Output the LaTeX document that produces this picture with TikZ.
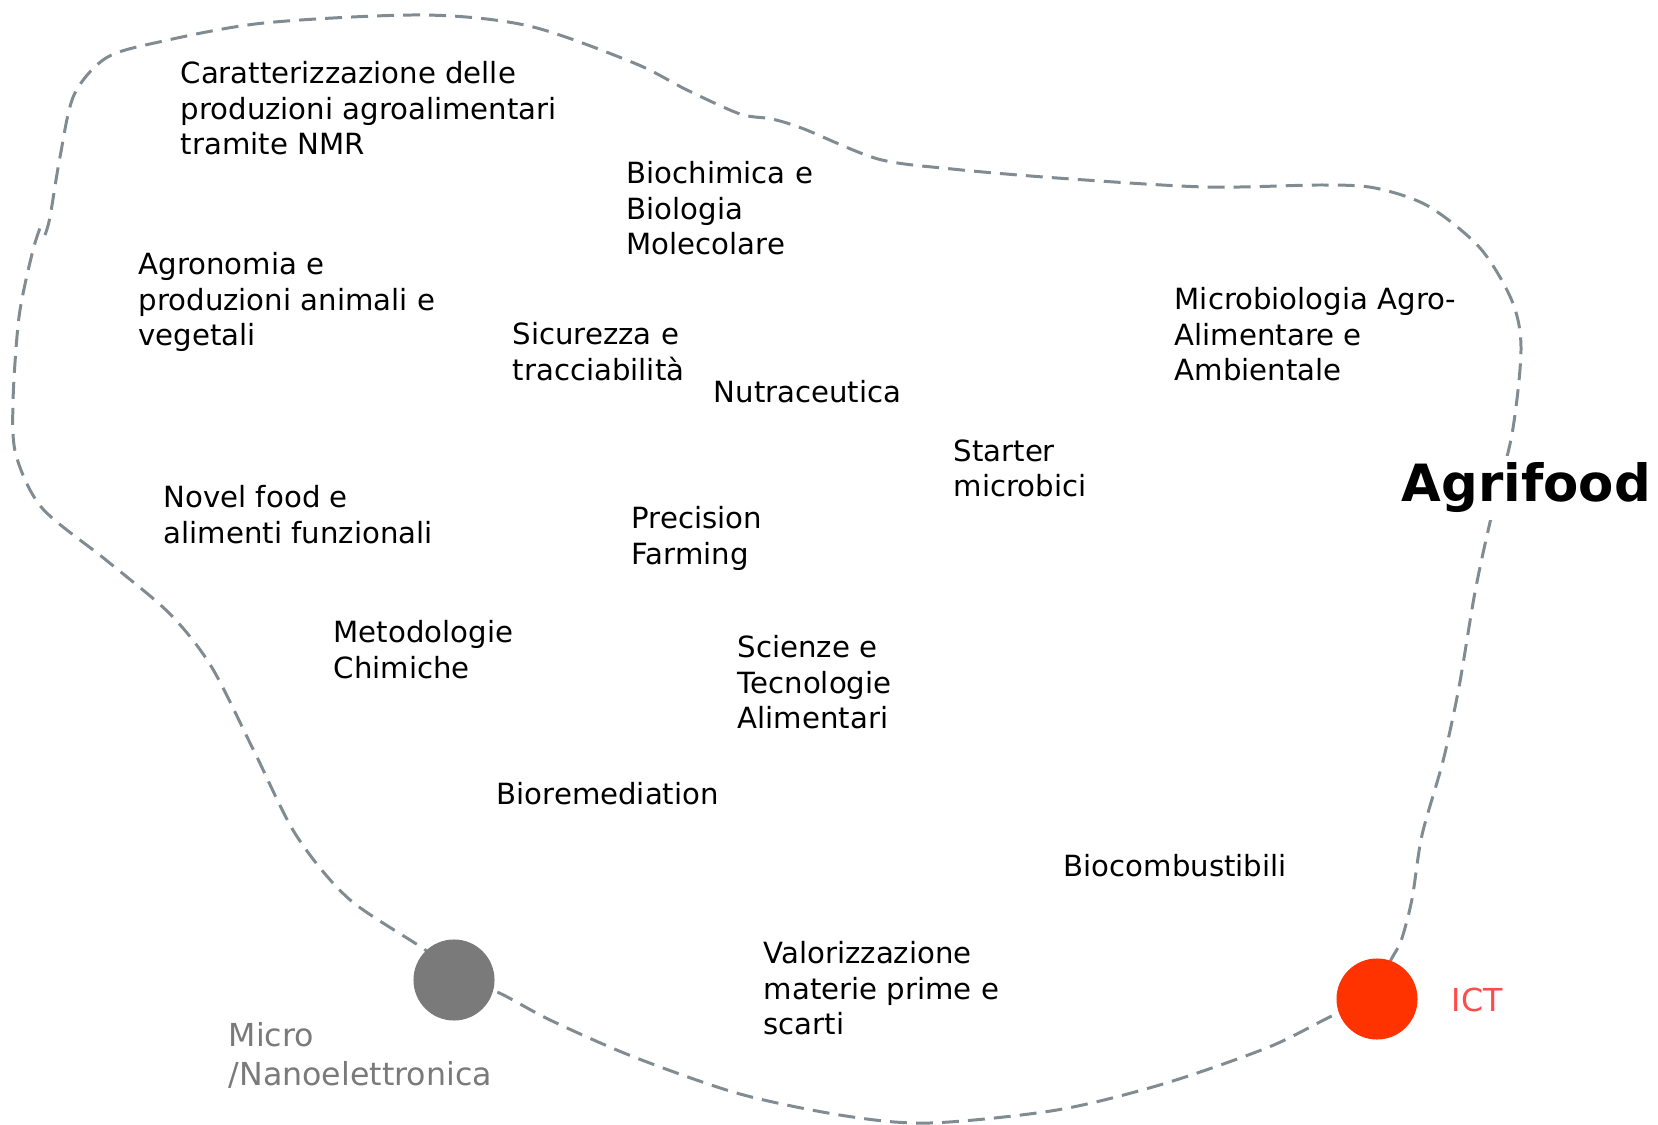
\documentclass[tikz,border=0pt]{standalone}
\usepackage{fontspec}
\setmainfont{DejaVu Sans}
\usetikzlibrary{positioning}
\definecolor{rimgray}{RGB}{128,140,146}
\definecolor{microgray}{RGB}{122,122,122}
\definecolor{ictred}{RGB}{255,51,0}
\definecolor{ictlabel}{RGB}{255,75,75}

\begin{document}
\begin{tikzpicture}[x=0.01cm,y=-0.01cm,
  every node/.style={font=\fontsize{8.3}{10}\selectfont,inner sep=0pt},
  topic/.style={anchor=north west,align=left},
  rim/.style={rimgray,line width=0.85pt,dash pattern=on 4.8pt off 2.6pt},
  hub/.style={circle,minimum size=0.81cm}]
\useasboundingbox (0,0) rectangle (1658,1125);

% dashed outline of the area
\draw[rim] plot[smooth] coordinates {(454,980) (428,952) (349,899) (296,835) (254,751)
  (211,666) (169,613) (106,560) (42,508) (16,455) (13,402) (19,317) (32,254) (40,228)};
\draw[rim] plot[smooth] coordinates {(45,235) (50,217) (60,157) (74,95) (106,58) (159,42)
  (264,23) (423,15) (529,26) (634,63) (687,90) (740,114) (772,119) (804,129) (878,159)
  (952,169) (1057,178) (1205,187) (1322,185) (1375,188) (1428,206) (1480,248) (1512,301)
  (1521,349) (1512,434) (1491,518) (1475,592) (1459,687) (1443,761) (1422,835) (1412,899)
  (1401,941) (1390,962) (1377,999) (1334,1015) (1269,1047) (1163,1084) (1057,1110)
  (930,1123) (846,1116) (740,1094) (634,1057) (550,1020) (497,992) (454,980)};

\node[anchor=base west,fill=white,inner sep=2pt,font=\bfseries\fontsize{14.6}{17}\selectfont]
  (agrifood) at (1394,502) {Agrifood};

% hubs
\node[hub,fill=microgray] (micro) at (454,980) {};
\node[hub,fill=ictred] (ict) at (1377,999) {};
\node[topic,text=microgray,font=\fontsize{9}{11.1}\selectfont] (microlabel) at (228,1022)
  {Micro\\/Nanoelettronica};
\node[anchor=west,text=ictlabel,font=\fontsize{9}{11}\selectfont] (ictlabel) at (1451,1000) {ICT};

% topics
\node[topic] (nmr) at (180,61) {Caratterizzazione delle\\produzioni agroalimentari\\tramite NMR};
\node[topic] (biochim) at (626,161) {Biochimica e\\Biologia\\Molecolare};
\node[topic] (agronomia) at (138,252) {Agronomia e\\produzioni animali e\\vegetali};
\node[topic] (sicurezza) at (512,322) {Sicurezza e\\tracciabilità};
\node[topic] (nutra) at (713,380) {Nutraceutica};
\node[topic] (microbio) at (1174,287) {Microbiologia Agro-\\Alimentare e\\Ambientale};
\node[topic] (starter) at (953,439) {Starter\\microbici};
\node[topic] (novel) at (163,485) {Novel food e\\alimenti funzionali};
\node[topic] (precision) at (631,506) {Precision\\Farming};
\node[topic] (metodologie) at (333,620) {Metodologie\\Chimiche};
\node[topic] (scienze) at (737,635) {Scienze e\\Tecnologie\\Alimentari};
\node[topic] (biorem) at (496,782) {Bioremediation};
\node[topic] (biocomb) at (1063,854) {Biocombustibili};
\node[topic] (valorizz) at (763,941) {Valorizzazione\\materie prime e\\scarti};
\end{tikzpicture}
\end{document}
